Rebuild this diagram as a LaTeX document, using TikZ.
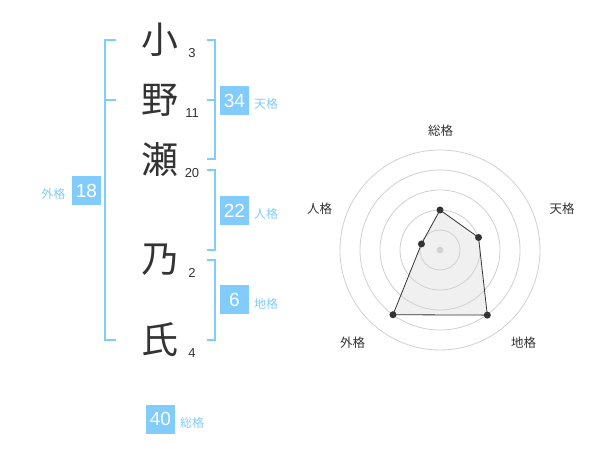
\documentclass[tikz,border=0pt]{standalone}
\usepackage{fontspec}
\setmainfont{Liberation Sans}
\newfontfamily\jpfont{Noto Sans CJK JP}
\usepackage{tikz}
\definecolor{kakublue}{RGB}{129,204,250}
\definecolor{kanjigray}{RGB}{51,51,51}
\definecolor{ringgray}{RGB}{208,208,208}
\definecolor{areagray}{RGB}{240,240,240}

\tikzset{
  kanji/.style={inner sep=0pt, text=kanjigray, font=\jpfont\fontsize{37}{37}\selectfont},
  strokes/.style={inner sep=0pt, text=kanjigray, font=\fontsize{13}{13}\selectfont},
  kakubox/.style={fill=kakublue, text=white, minimum width=29pt, minimum height=29pt, inner sep=0pt, font=\fontsize{19}{19}\selectfont},
  kakulabel/.style={inner sep=0pt, text=kakublue, font=\jpfont\fontsize{12}{12}\selectfont},
  bracket/.style={draw=kakublue, line width=2pt},
  ring/.style={draw=ringgray, line width=0.8pt},
  axislabel/.style={inner sep=0pt, text=kanjigray, font=\jpfont\fontsize{12.5}{12.5}\selectfont},
  radardot/.style={fill=kanjigray}
}

\begin{document}
\begin{tikzpicture}[x=1pt, y=-1pt]
  \useasboundingbox (0,0) rectangle (600,470);
  % name, with strokes
  \node[kanji] (c1) at (160,40) {小};  \node[strokes] (s1) at (192,53) {3};
  \node[kanji] (c2) at (160,100) {野}; \node[strokes] (s2) at (192,113) {11};
  \node[kanji] (c3) at (160,160) {瀬}; \node[strokes] (s3) at (192,173) {20};
  \node[kanji] (c4) at (160,260) {乃}; \node[strokes] (s4) at (192,273) {2};
  \node[kanji] (c5) at (160,340) {氏}; \node[strokes] (s5) at (192,353) {4};
  % brackets
  \draw[bracket] (116,40) -- (105,40) -- (105,340) -- (116,340); \draw[bracket] (105,100) -- (116,100);
  \draw[bracket] (207,40) -- (214.5,40) -- (214.5,159) -- (207,159); \draw[bracket] (207,100) -- (214.5,100);
  \draw[bracket] (207,170) -- (214.5,170) -- (214.5,250) -- (207,250);
  \draw[bracket] (207,260) -- (214.5,260) -- (214.5,340) -- (207,340);
  % the five kaku
  \node[kakubox] (ten) at (234.5,100.5) {34}; \node[kakulabel] (tenl) at (266,104) {天格};
  \node[kakubox] (jin) at (234.5,210.5) {22}; \node[kakulabel] (jinl) at (266,214) {人格};
  \node[kakubox] (chi) at (234.5,300) {6};   \node[kakulabel] (chil) at (266,303.5) {地格};
  \node[kakubox] (gai) at (86.5,190.5) {18}; \node[kakulabel] (gail) at (53.5,194) {外格};
  \node[kakubox] (sou) at (160.5,419) {40};  \node[kakulabel] (soul) at (192,422.5) {総格};
  % radar chart
  \coordinate (ctr) at (440,250);
  \path (ctr) ++(-90:40) coordinate (rsou);
  \path (ctr) ++(-18:40.5) coordinate (rten);
  \path (ctr) ++(54:80.5) coordinate (rchi);
  \path (ctr) ++(126:80) coordinate (rgai);
  \path (ctr) ++(198:19.5) coordinate (rjin);
  \fill[areagray] (rsou) -- (rten) -- (rchi) -- (rgai) -- (rjin) -- cycle;
  \foreach \r in {20,40,...,100} \draw[ring] (ctr) circle[radius=\r];
  \fill[ringgray] (ctr) circle[radius=3.3];
  \draw[kanjigray, line width=0.8pt] (rsou) -- (rten) -- (rchi) -- (rgai) -- (rjin) -- cycle;
  \fill[radardot] (rsou) circle[radius=3.5]; \fill[radardot] (rten) circle[radius=3.5];
  \fill[radardot] (rchi) circle[radius=3.5]; \fill[radardot] (rgai) circle[radius=3.5];
  \fill[radardot] (rjin) circle[radius=3.5];
  \node[axislabel] (asou) at (440.5,131) {総格};
  \node[axislabel] (aten) at (562,208.5) {天格};
  \node[axislabel] (ajin) at (319.5,208.5) {人格};
  \node[axislabel] (agai) at (352.5,343) {外格};
  \node[axislabel] (achi) at (523.5,343) {地格};
\end{tikzpicture}
\end{document}
